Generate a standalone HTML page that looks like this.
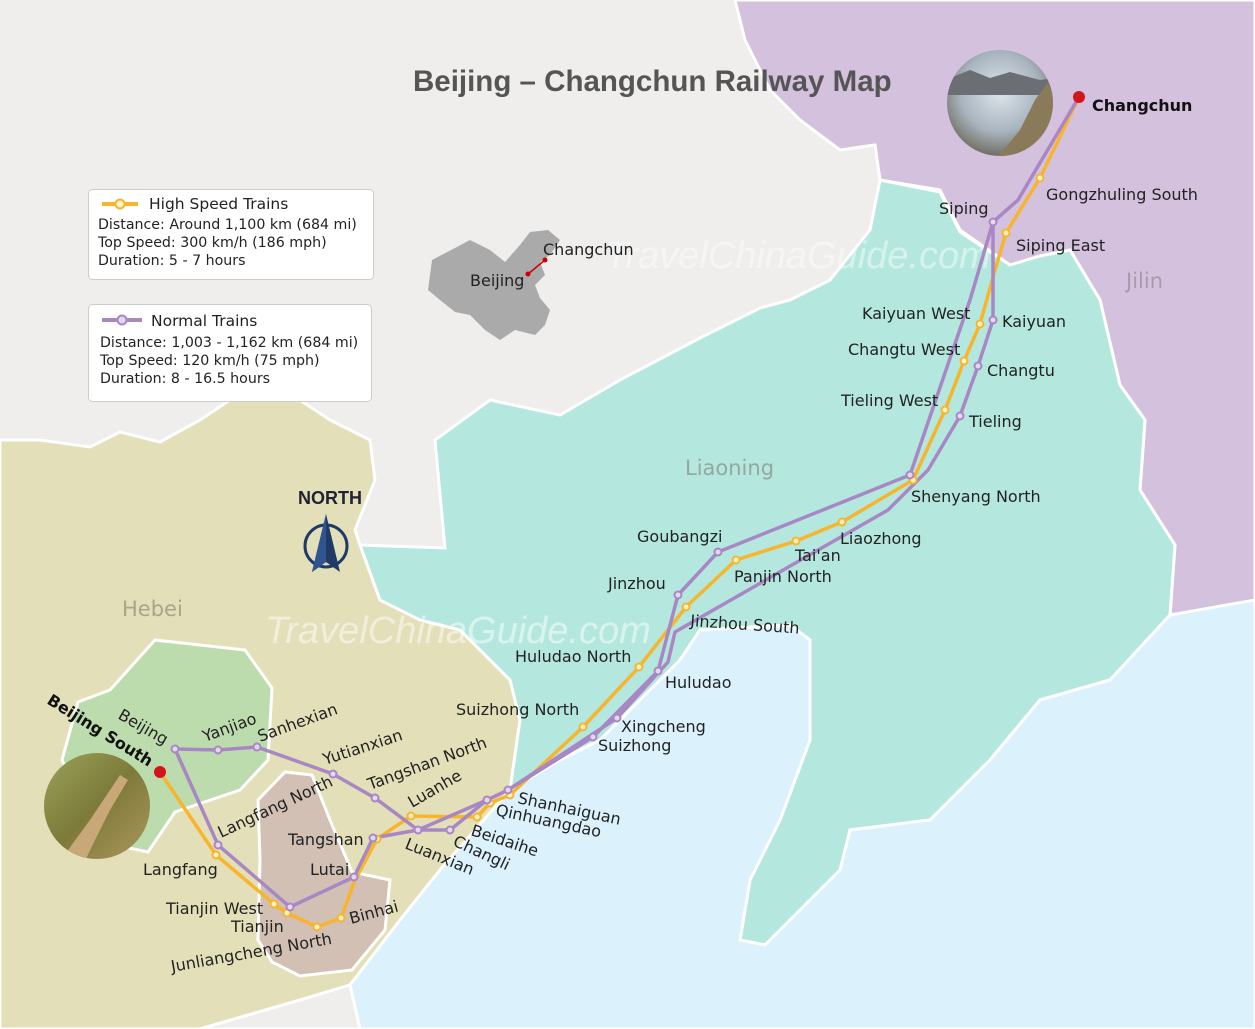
<!DOCTYPE html>
<html><head><meta charset="utf-8"><style>
html,body{margin:0;padding:0;}
body{width:1255px;height:1029px;overflow:hidden;background:#efeeed;font-family:"DejaVu Sans","Liberation Sans",sans-serif;}
svg{display:block}
.st{font-family:"DejaVu Sans",sans-serif;font-size:16px;fill:#222;}
</style></head><body>
<svg width="1255" height="1029" viewBox="0 0 1255 1029" xmlns="http://www.w3.org/2000/svg">
<defs>
<radialGradient id="g1" cx="50%" cy="40%" r="60%"><stop offset="0" stop-color="#dfe6ec"/><stop offset="0.6" stop-color="#a8b4bf"/><stop offset="1" stop-color="#6d6a5c"/></radialGradient>
<linearGradient id="g2" x1="0" y1="0" x2="1" y2="1"><stop offset="0" stop-color="#9aa55a"/><stop offset="0.5" stop-color="#7d7a3a"/><stop offset="1" stop-color="#b0985e"/></linearGradient>
<clipPath id="c1"><circle cx="1000" cy="103" r="53"/></clipPath>
<clipPath id="c2"><circle cx="97" cy="806" r="53"/></clipPath>
</defs>
<rect width="1255" height="1029" fill="#efeeed"/>
<polygon points="735,0 1255,0 1255,605 1170,615 1175,545 1140,490 1145,420 1120,385 1100,300 1070,250 1040,258 1010,265 960,230 940,190 880,180 875,145 840,150 800,120 770,90 745,40" fill="#d4c1de" stroke="#fff" stroke-width="3"/>
<polygon points="0,440 40,440 90,447 120,432 160,442 200,420 230,400 300,400 330,420 370,440 375,480 355,530 360,545 380,600 420,620 460,630 510,680 520,720 510,790 440,870 400,920 350,985 300,1000 200,1029 0,1029" fill="#e3dfb8" stroke="#fff" stroke-width="3"/>
<polygon points="880,180 940,192 960,232 1010,265 1040,256 1070,250 1100,300 1120,385 1145,420 1140,490 1175,545 1170,615 1110,680 1040,700 990,760 930,820 850,830 840,870 765,945 740,940 750,880 780,820 810,740 810,640 790,625 700,630 680,660 640,700 600,740 560,760 510,790 520,720 510,680 460,630 420,620 380,600 360,545 445,548 435,440 490,400 560,415 620,380 700,338 760,308 790,300 830,280 870,230" fill="#b4e8df" stroke="#fff" stroke-width="3"/>
<polygon points="510,790 560,760 600,740 640,700 680,660 700,630 790,625 810,640 810,740 780,820 750,880 740,940 765,945 840,870 850,830 930,820 990,760 1040,700 1110,680 1170,615 1255,600 1255,1029 360,1029 350,985 400,920 440,870" fill="#dbf2fc" stroke="#fff" stroke-width="3"/>
<polygon points="110,690 155,640 245,650 272,688 268,760 240,790 175,812 148,852 100,842 62,760 78,702" fill="#bcdcae" stroke="#fff" stroke-width="3"/>
<polygon points="258,800 285,772 312,775 330,820 352,872 390,880 385,930 352,970 300,976 272,962 258,940 260,860" fill="#d3c0b4" stroke="#fff" stroke-width="3"/>
<polygon points="0,1029 200,1029 300,1000 350,985 360,1029" fill="#efeeed" stroke="#fff" stroke-width="3"/>

<text x="605" y="268" font-family="Liberation Sans" font-style="italic" font-size="38" fill="#fff" opacity="0.45">TravelChinaGuide.com</text>
<text x="265" y="643" font-family="Liberation Sans" font-style="italic" font-size="38" fill="#fff" opacity="0.5">TravelChinaGuide.com</text>

<text x="685" y="475" font-size="21" fill="#93a8a0" font-family="DejaVu Sans">Liaoning</text>
<text x="122" y="616" font-size="21" fill="#aaa48a" font-family="DejaVu Sans">Hebei</text>
<text x="1126" y="288" font-size="21" fill="#a99aab" font-family="DejaVu Sans">Jilin</text>

<text x="413" y="91" font-family="Liberation Sans" font-weight="bold" font-size="29.5" fill="#555">Beijing – Changchun Railway Map</text>

<polygon points="432,260 455,248 470,240 490,250 505,262 520,245 530,232 548,230 560,240 550,255 540,262 545,275 535,285 540,298 550,310 545,325 535,335 515,330 500,340 485,330 470,315 455,312 440,300 428,290 430,275" fill="#aaa"/>
<line x1="528" y1="274" x2="545" y2="260" stroke="#c00" stroke-width="1.5"/>
<circle cx="528" cy="274" r="2.5" fill="#c00"/><circle cx="545" cy="260" r="2.5" fill="#c00"/>
<text x="543" y="255" class="st">Changchun</text>
<text x="470" y="286" class="st">Beijing</text>

<rect x="88.5" y="189.5" width="285" height="90" rx="4" fill="#fff" stroke="#ccc"/>
<line x1="102" y1="204" x2="138" y2="204" stroke="#f8b52c" stroke-width="4"/><circle cx="120" cy="204" r="4.5" fill="#fff3c8" stroke="#f8b52c" stroke-width="2"/>
<text x="149" y="209" font-size="15.5" fill="#222">High Speed Trains</text>
<text x="98" y="229" font-size="14.2" fill="#222">Distance: Around 1,100 km (684 mi)</text>
<text x="98" y="247" font-size="14.2" fill="#222">Top Speed: 300 km/h (186 mph)</text>
<text x="98" y="265" font-size="14.2" fill="#222">Duration: 5 - 7 hours</text>
<rect x="88.5" y="304.5" width="283" height="97" rx="4" fill="#fff" stroke="#ccc"/>
<line x1="102" y1="320" x2="142" y2="320" stroke="#a887c4" stroke-width="4"/><circle cx="122" cy="320" r="4.5" fill="#e4d8ee" stroke="#a887c4" stroke-width="2"/>
<text x="151" y="326" font-size="15.5" fill="#222">Normal Trains</text>
<text x="100" y="347" font-size="14.2" fill="#222">Distance: 1,003 - 1,162 km (684 mi)</text>
<text x="100" y="365" font-size="14.2" fill="#222">Top Speed: 120 km/h (75 mph)</text>
<text x="100" y="383" font-size="14.2" fill="#222">Duration: 8 - 16.5 hours</text>

<text x="298" y="504" font-family="Liberation Sans" font-weight="bold" font-size="18" fill="#223">NORTH</text>
<circle cx="326" cy="546" r="21" fill="none" stroke="#1f3a66" stroke-width="3"/>
<polygon points="326,514 340,572 326,562 312,572" fill="#1f3a66"/>
<polygon points="326,514 326,562 312,572" fill="#2f5590"/>

<g clip-path="url(#c1)"><rect x="945" y="48" width="110" height="110" fill="url(#g1)"/><polygon points="945,80 970,70 990,78 1010,72 1040,80 1055,78 1055,95 945,95" fill="#6b6e72"/><polygon points="1050,80 1055,80 1055,160 995,160 1020,130 1035,100" fill="#8a7a5a"/></g>
<g clip-path="url(#c2)"><rect x="42" y="751" width="110" height="110" fill="url(#g2)"/><polygon points="60,861 90,820 110,790 120,775 128,780 110,810 95,840 85,861" fill="#c8a878"/></g>

<polyline fill="none" stroke="#f8b52c" stroke-width="3.5" stroke-linejoin="round" points="160,772 216,855 274,904 287,913 317,927 341,918 355,880 377,839 411,816 477,817 490,803 510,795 583,727 639,667 686,607 736,560 796,541 842,522 913,480 945,410 964,361 980,324 995,270 1006,233 1040,178 1079,97"/>
<g fill="none" stroke="#a887c4" stroke-width="3.5" stroke-linejoin="round">
<polyline points="175,749 218,750 257,747 333,774 375,798 418,830 450,830 487,800 508,790"/>
<polyline points="175,749 218,845 290,907 354,877 373,838 418,830 487,800"/>
<polyline points="508,790 593,737 658,671 678,595 718,552 910,475 970,300 993,222 1018,200 1079,97"/>
<polyline points="508,790 617,718 668,662 675,632 888,510 928,470 960,416 978,366 993,320 993,222"/>
</g>
<g fill="#fff3c8" stroke="#f8b52c" stroke-width="2">
<circle cx="216" cy="855" r="3.5"/><circle cx="274" cy="904" r="3.5"/><circle cx="287" cy="913" r="3.5"/><circle cx="317" cy="927" r="3.5"/><circle cx="341" cy="918" r="3.5"/><circle cx="377" cy="839" r="3.5"/><circle cx="411" cy="816" r="3.5"/><circle cx="477" cy="817" r="3.5"/><circle cx="490" cy="803" r="3.5"/><circle cx="510" cy="795" r="3.5"/><circle cx="583" cy="727" r="3.5"/><circle cx="639" cy="667" r="3.5"/><circle cx="686" cy="607" r="3.5"/><circle cx="736" cy="560" r="3.5"/><circle cx="796" cy="541" r="3.5"/><circle cx="842" cy="522" r="3.5"/><circle cx="913" cy="480" r="3.5"/><circle cx="945" cy="410" r="3.5"/><circle cx="964" cy="361" r="3.5"/><circle cx="980" cy="324" r="3.5"/><circle cx="1006" cy="233" r="3.5"/><circle cx="1040" cy="178" r="3.5"/>
</g>
<g fill="#e4d8ee" stroke="#a887c4" stroke-width="2">
<circle cx="175" cy="749" r="3.5"/><circle cx="218" cy="750" r="3.5"/><circle cx="257" cy="747" r="3.5"/><circle cx="333" cy="774" r="3.5"/><circle cx="375" cy="798" r="3.5"/><circle cx="418" cy="830" r="3.5"/><circle cx="450" cy="830" r="3.5"/><circle cx="487" cy="800" r="3.5"/><circle cx="508" cy="790" r="3.5"/><circle cx="218" cy="845" r="3.5"/><circle cx="290" cy="907" r="3.5"/><circle cx="354" cy="877" r="3.5"/><circle cx="373" cy="838" r="3.5"/><circle cx="593" cy="737" r="3.5"/><circle cx="617" cy="718" r="3.5"/><circle cx="658" cy="671" r="3.5"/><circle cx="678" cy="595" r="3.5"/><circle cx="718" cy="552" r="3.5"/><circle cx="910" cy="475" r="3.5"/><circle cx="960" cy="416" r="3.5"/><circle cx="978" cy="366" r="3.5"/><circle cx="993" cy="320" r="3.5"/><circle cx="993" cy="222" r="3.5"/>
</g>
<circle cx="1079" cy="97" r="6" fill="#d4141b"/>
<circle cx="160" cy="772" r="6" fill="#d4141b"/>

<text x="1092" y="111" font-size="16" font-weight="bold" fill="#111">Changchun</text>
<text x="1046" y="200" class="st">Gongzhuling South</text>
<text x="939" y="214" class="st">Siping</text>
<text x="1016" y="251" class="st">Siping East</text>
<text x="862" y="319" class="st">Kaiyuan West</text>
<text x="1002" y="327" class="st">Kaiyuan</text>
<text x="848" y="355" class="st">Changtu West</text>
<text x="987" y="376" class="st">Changtu</text>
<text x="841" y="406" class="st">Tieling West</text>
<text x="969" y="427" class="st">Tieling</text>
<text x="911" y="502" class="st">Shenyang North</text>
<text x="840" y="544" class="st">Liaozhong</text>
<text x="637" y="542" class="st">Goubangzi</text>
<text x="795" y="561" class="st">Tai'an</text>
<text x="734" y="582" class="st">Panjin North</text>
<text x="608" y="589" class="st">Jinzhou</text>
<text x="690" y="626" class="st" transform="rotate(4 690 626)">Jinzhou South</text>
<text x="515" y="662" class="st">Huludao North</text>
<text x="665" y="688" class="st">Huludao</text>
<text x="456" y="715" class="st">Suizhong North</text>
<text x="621" y="732" class="st">Xingcheng</text>
<text x="598" y="751" class="st">Suizhong</text>
<text x="517" y="803" class="st" transform="rotate(12 517 803)">Shanhaiguan</text>
<text x="495" y="815" class="st" transform="rotate(12 495 815)">Qinhuangdao</text>
<text x="470" y="835" class="st" transform="rotate(18 470 835)">Beidaihe</text>
<text x="452" y="845" class="st" transform="rotate(25 452 845)">Changli</text>
<text x="404" y="848" class="st" transform="rotate(22 404 848)">Luanxian</text>
<text x="412" y="808" class="st" transform="rotate(-30 412 808)">Luanhe</text>
<text x="370" y="790" class="st" transform="rotate(-20 370 790)">Tangshan North</text>
<text x="325" y="765" class="st" transform="rotate(-18 325 765)">Yutianxian</text>
<text x="260" y="742" class="st" transform="rotate(-20 260 742)">Sanhexian</text>
<text x="205" y="742" class="st" transform="rotate(-20 205 742)">Yanjiao</text>
<text x="117" y="718" class="st" transform="rotate(30 117 718)">Beijing</text>
<text x="46" y="703" font-size="16" font-weight="bold" fill="#111" transform="rotate(32 46 703)">Beijing South</text>
<text x="221" y="838" class="st" transform="rotate(-25 221 838)">Langfang North</text>
<text x="288" y="845" class="st">Tangshan</text>
<text x="310" y="875" class="st">Lutai</text>
<text x="143" y="875" class="st">Langfang</text>
<text x="166" y="914" class="st">Tianjin West</text>
<text x="231" y="932" class="st">Tianjin</text>
<text x="172" y="972" class="st" transform="rotate(-10 172 972)">Junliangcheng North</text>
<text x="351" y="924" class="st" transform="rotate(-15 351 924)">Binhai</text>
</svg>
</body></html>
